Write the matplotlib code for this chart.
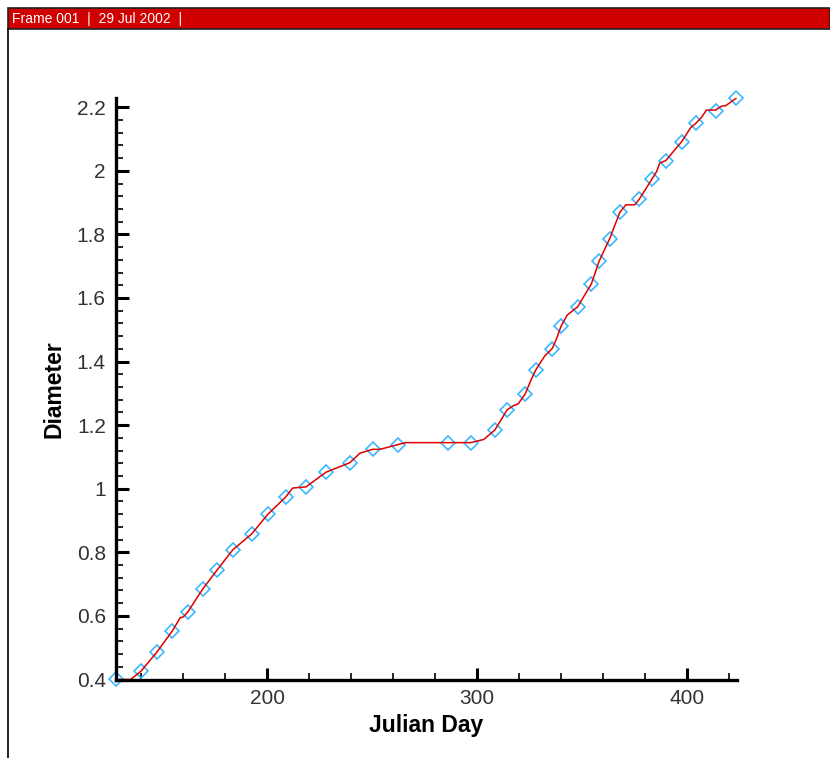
import matplotlib.pyplot as plt
from matplotlib.ticker import MultipleLocator
from matplotlib.patches import Rectangle
from matplotlib.lines import Line2D

plt.rcParams['font.family'] = ['Liberation Sans', 'DejaVu Sans']

# measured points (diamonds)
day_pts = [128.0, 139.9, 147.5, 154.9, 162.2, 169.4, 176.3, 183.7, 192.7, 200.3,
           208.9, 218.6, 228.1, 239.5, 250.3, 262.5, 286.0, 297.1, 308.6, 314.4,
           323.0, 328.0, 335.9, 340.1, 348.0, 354.6, 358.2, 363.3, 368.1, 377.3,
           383.5, 390.0, 397.6, 404.3, 413.8, 423.7]
diam_pts = [0.402, 0.426, 0.486, 0.553, 0.612, 0.685, 0.745, 0.808, 0.858, 0.919,
            0.974, 1.006, 1.052, 1.082, 1.124, 1.139, 1.145, 1.145, 1.185, 1.248,
            1.298, 1.373, 1.441, 1.511, 1.572, 1.645, 1.715, 1.787, 1.869, 1.910,
            1.975, 2.032, 2.092, 2.149, 2.189, 2.229]

# red curve vertices
day_line = [128.0, 135.0, 139.9, 147.5, 154.9, 158.6, 160.1, 162.2, 169.4, 176.3,
            183.7, 192.7, 200.3, 208.9, 212.2, 218.6, 228.1, 239.5, 244.3, 250.3,
            253.8, 262.5, 266.0, 286.0, 297.1, 303.3, 308.6, 314.4, 317.3, 319.7,
            323.0, 326.0, 328.0, 330.0, 332.4, 335.9, 337.6, 340.1, 343.0, 348.0,
            354.6, 358.2, 363.3, 368.1, 371.0, 375.2, 377.3, 380.3, 383.5, 385.6,
            387.1, 390.0, 397.6, 401.9, 404.3, 407.0, 409.4, 413.8, 416.5, 418.6,
            423.7]
diam_line = [0.400, 0.400, 0.426, 0.486, 0.553, 0.594, 0.597, 0.612, 0.685, 0.745,
             0.808, 0.858, 0.919, 0.974, 1.002, 1.006, 1.052, 1.082, 1.112, 1.124,
             1.124, 1.139, 1.145, 1.145, 1.145, 1.155, 1.185, 1.248, 1.261, 1.267,
             1.298, 1.345, 1.373, 1.394, 1.418, 1.441, 1.466, 1.511, 1.546, 1.572,
             1.645, 1.715, 1.787, 1.869, 1.893, 1.893, 1.910, 1.941, 1.975, 1.997,
             2.024, 2.032, 2.092, 2.136, 2.149, 2.168, 2.191, 2.191, 2.203, 2.205,
             2.229]

fig = plt.figure(figsize=(8.3, 7.58), dpi=100)
W, H = 830.0, 758.0

# Tecplot style frame header
fig.add_artist(Rectangle((8 / W, 1 - 29 / H), 1 - 8 / W, 21 / H, transform=fig.transFigure,
                         facecolor='#d00000', edgecolor='#202020', linewidth=1.2))
fig.add_artist(Line2D([8 / W, 8 / W], [0, 1 - 29 / H], transform=fig.transFigure,
                      color='black', linewidth=1.2))
fig.text(12 / W, 1 - 19 / H, "Frame 001  |  29 Jul 2002  |", color='white',
         fontsize=10, va='center', ha='left', family=['Liberation Sans Narrow', 'Liberation Sans'])

ax = fig.add_axes([115.5 / W, 1 - 679.5 / H, (736.7 - 115.5) / W, (679.5 - 98.3) / H])

ax.plot(day_line, diam_line, color='#e00000', linewidth=1.1, zorder=3)
ax.plot(day_pts, diam_pts, linestyle='none', marker='D', markersize=7,
        markerfacecolor='none', markeredgecolor='#3cb8ff', markeredgewidth=1.2,
        zorder=2, clip_on=False)

ax.set_xlim(127.8, 423.8)
ax.set_ylim(0.4, 2.228)

for s in ['top', 'right']:
    ax.spines[s].set_visible(False)
for s in ['left', 'bottom']:
    ax.spines[s].set_linewidth(2.4)
    ax.spines[s].set_zorder(4)

ax.xaxis.set_major_locator(MultipleLocator(100))
ax.xaxis.set_minor_locator(MultipleLocator(20))
ax.yaxis.set_major_locator(MultipleLocator(0.2))
ax.yaxis.set_minor_locator(MultipleLocator(0.04))
ax.tick_params(which='major', direction='in', length=9, width=2.2, labelsize=15,
               labelcolor='#333333', pad=7)
ax.tick_params(which='minor', direction='in', length=5, width=1.2)
ax.set_yticks([0.4, 0.6, 0.8, 1.0, 1.2, 1.4, 1.6, 1.8, 2.0, 2.2])
ax.set_yticklabels(['0.4', '0.6', '0.8', '1', '1.2', '1.4', '1.6', '1.8', '2', '2.2'])
ax.set_xticks([200, 300, 400])

ax.set_xlabel("Julian Day", fontsize=16.5, fontweight='bold', labelpad=4)
ax.set_ylabel("Diameter", fontsize=16.5, fontweight='bold', labelpad=8)

plt.savefig("out.png", dpi=100)
